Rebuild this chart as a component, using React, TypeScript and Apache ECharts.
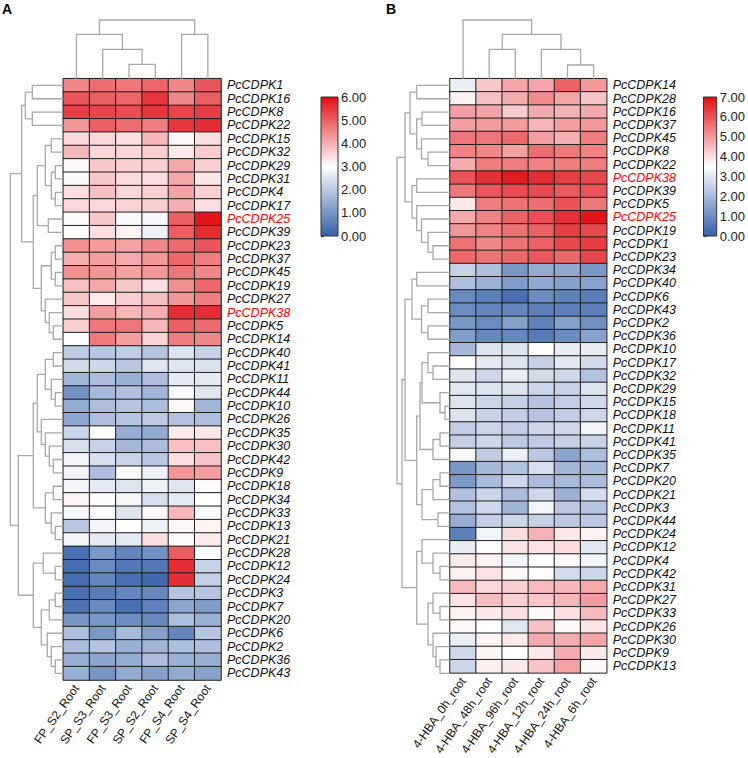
import React, { useEffect, useRef } from 'react';
import * as echarts from 'echarts';

const FONT = '"Liberation Sans", Arial, Helvetica, sans-serif';

const leftCols = ['FP_S2_Root', 'SP_S3_Root', 'FP_S3_Root', 'SP_S2_Root', 'FP_S4_Root', 'SP_S4_Root'];
const leftGenes = ['PcCDPK1', 'PcCDPK16', 'PcCDPK8', 'PcCDPK22', 'PcCDPK15', 'PcCDPK32', 'PcCDPK29', 'PcCDPK31', 'PcCDPK4', 'PcCDPK17', 'PcCDPK25', 'PcCDPK39', 'PcCDPK23', 'PcCDPK37', 'PcCDPK45', 'PcCDPK19', 'PcCDPK27', 'PcCDPK38', 'PcCDPK5', 'PcCDPK14', 'PcCDPK40', 'PcCDPK41', 'PcCDPK11', 'PcCDPK44', 'PcCDPK10', 'PcCDPK26', 'PcCDPK35', 'PcCDPK30', 'PcCDPK42', 'PcCDPK9', 'PcCDPK18', 'PcCDPK34', 'PcCDPK33', 'PcCDPK13', 'PcCDPK21', 'PcCDPK28', 'PcCDPK12', 'PcCDPK24', 'PcCDPK3', 'PcCDPK7', 'PcCDPK20', 'PcCDPK6', 'PcCDPK2', 'PcCDPK36', 'PcCDPK43'];
const leftValues = [
  [4.5, 4.8, 4.7, 4.9, 4.5, 5.1],
  [5.1, 5.0, 4.9, 5.5, 4.5, 5.0],
  [5.4, 5.3, 5.2, 5.5, 5.3, 5.4],
  [4.3, 5.0, 4.8, 4.6, 5.5, 5.6],
  [3.5, 3.5, 3.4, 3.9, 3.1, 3.4],
  [3.9, 3.5, 3.5, 3.6, 3.25, 3.65],
  [3.1, 3.7, 3.6, 3.6, 4.1, 3.6],
  [2.9, 3.7, 3.45, 3.4, 4.1, 3.3],
  [3.4, 3.8, 3.5, 3.6, 4.15, 3.6],
  [3.5, 3.5, 3.55, 3.6, 4.0, 3.4],
  [3.05, 3.7, 2.9, 2.85, 5.0, 5.9],
  [3.0, 3.4, 3.15, 2.75, 5.0, 5.6],
  [4.4, 4.25, 4.15, 4.5, 4.85, 5.1],
  [4.0, 4.2, 4.05, 4.3, 4.9, 4.6],
  [4.4, 4.35, 4.15, 4.3, 4.7, 4.5],
  [3.8, 4.1, 3.7, 3.4, 4.4, 4.9],
  [3.7, 3.25, 3.6, 3.8, 4.3, 4.6],
  [3.4, 4.2, 3.9, 4.0, 5.6, 5.6],
  [3.6, 4.7, 4.7, 3.9, 5.0, 4.85],
  [3.0, 4.65, 4.2, 3.55, 4.6, 4.5],
  [2.05, 1.95, 2.05, 1.9, 2.5, 2.15],
  [2.3, 2.25, 1.95, 2.55, 2.5, 2.45],
  [1.6, 1.75, 1.5, 1.8, 2.6, 2.6],
  [0.9, 1.7, 1.85, 1.6, 2.9, 2.55],
  [1.4, 1.8, 1.9, 1.75, 3.1, 1.6],
  [1.35, 1.8, 1.9, 2.0, 1.85, 1.8],
  [2.2, 3.0, 1.45, 1.4, 3.25, 3.3],
  [2.4, 2.15, 1.65, 1.75, 3.8, 3.8],
  [2.8, 2.4, 2.2, 1.95, 3.4, 3.75],
  [2.8, 1.8, 2.95, 2.75, 4.3, 4.2],
  [2.8, 2.6, 2.5, 2.75, 2.5, 3.05],
  [3.15, 2.95, 2.85, 2.4, 2.6, 3.0],
  [2.85, 2.95, 2.5, 3.1, 3.9, 2.9],
  [1.95, 2.8, 3.0, 2.75, 3.1, 3.15],
  [2.8, 2.6, 2.6, 3.4, 2.95, 3.25],
  [0.3, 1.05, 0.7, 0.9, 5.0, 3.0],
  [0.25, 0.8, 0.45, 0.45, 5.6, 2.15],
  [0.25, 0.7, 0.3, 0.2, 5.6, 2.1],
  [0.3, 0.55, 0.7, 0.75, 1.9, 1.9],
  [0.35, 0.8, 0.3, 0.65, 1.3, 1.15],
  [1.0, 1.05, 0.85, 0.75, 1.8, 1.5],
  [1.8, 1.05, 1.7, 1.2, 0.7, 1.9],
  [1.75, 1.9, 1.5, 1.6, 1.8, 1.8],
  [1.45, 1.3, 1.4, 1.75, 1.5, 1.45],
  [1.5, 1.0, 1.4, 1.2, 1.4, 1.25],
];

const rightCols = ['4-HBA_0h_root', '4-HBA_48h_root', '4-HBA_96h_root', '4-HBA_12h_root', '4-HBA_24h_root', '4-HBA_6h_root'];
const rightGenes = ['PcCDPK14', 'PcCDPK28', 'PcCDPK16', 'PcCDPK37', 'PcCDPK45', 'PcCDPK8', 'PcCDPK22', 'PcCDPK38', 'PcCDPK39', 'PcCDPK5', 'PcCDPK25', 'PcCDPK19', 'PcCDPK1', 'PcCDPK23', 'PcCDPK34', 'PcCDPK40', 'PcCDPK6', 'PcCDPK43', 'PcCDPK2', 'PcCDPK36', 'PcCDPK10', 'PcCDPK17', 'PcCDPK32', 'PcCDPK29', 'PcCDPK15', 'PcCDPK18', 'PcCDPK11', 'PcCDPK41', 'PcCDPK35', 'PcCDPK7', 'PcCDPK20', 'PcCDPK21', 'PcCDPK3', 'PcCDPK44', 'PcCDPK24', 'PcCDPK12', 'PcCDPK4', 'PcCDPK42', 'PcCDPK31', 'PcCDPK27', 'PcCDPK33', 'PcCDPK26', 'PcCDPK30', 'PcCDPK9', 'PcCDPK13'];
const rightValues = [
  [3.15, 4.3, 4.8, 4.8, 5.8, 5.0],
  [3.7, 4.4, 4.7, 5.2, 4.8, 4.35],
  [4.9, 4.8, 4.25, 4.75, 4.6, 4.75],
  [4.9, 4.95, 4.95, 4.55, 4.9, 5.0],
  [5.5, 5.5, 5.7, 4.9, 4.65, 5.4],
  [5.3, 5.25, 4.85, 5.6, 5.45, 5.3],
  [4.7, 5.4, 5.4, 5.3, 5.4, 5.4],
  [6.0, 6.5, 6.8, 6.55, 6.3, 6.15],
  [5.45, 5.95, 6.1, 6.1, 5.9, 6.0],
  [3.8, 5.4, 5.55, 5.6, 6.0, 5.45],
  [4.75, 5.3, 5.75, 6.05, 6.5, 6.9],
  [5.0, 5.3, 5.55, 5.8, 6.3, 6.15],
  [5.55, 5.25, 5.55, 5.8, 6.15, 6.3],
  [5.7, 5.55, 5.7, 5.95, 5.7, 6.2],
  [2.5, 2.1, 1.2, 1.65, 1.6, 1.2],
  [2.1, 1.8, 1.3, 1.6, 1.4, 1.45],
  [0.9, 0.7, 0.35, 0.95, 0.75, 0.65],
  [0.95, 0.85, 0.85, 0.7, 0.7, 0.7],
  [1.2, 0.95, 1.4, 0.75, 1.4, 1.05],
  [1.35, 0.85, 0.85, 0.6, 0.95, 1.45],
  [1.95, 2.9, 2.9, 3.5, 3.1, 3.1],
  [3.5, 3.05, 2.9, 2.45, 3.0, 2.7],
  [2.95, 2.6, 3.1, 2.7, 2.65, 2.15],
  [3.0, 2.9, 2.9, 2.6, 2.5, 2.9],
  [2.9, 2.6, 2.45, 2.2, 2.4, 2.65],
  [2.9, 2.55, 2.4, 2.2, 2.4, 2.6],
  [2.4, 2.6, 2.4, 2.6, 2.65, 3.25],
  [2.45, 2.65, 2.3, 2.35, 2.5, 2.55],
  [3.35, 2.4, 3.15, 2.3, 1.5, 2.1],
  [1.2, 1.95, 2.15, 2.8, 1.9, 2.0],
  [1.25, 2.0, 2.65, 2.05, 2.0, 2.05],
  [2.15, 2.6, 2.05, 2.65, 1.8, 2.75],
  [2.15, 2.65, 1.85, 3.3, 2.3, 2.25],
  [1.7, 2.45, 2.6, 2.5, 2.3, 2.3],
  [0.7, 3.25, 4.0, 4.6, 3.85, 3.7],
  [3.1, 3.55, 3.9, 3.9, 4.0, 3.0],
  [3.8, 3.7, 3.25, 3.5, 3.6, 3.25],
  [3.7, 3.9, 3.6, 3.55, 2.75, 2.6],
  [4.5, 4.05, 4.2, 4.5, 4.55, 4.75],
  [3.9, 4.45, 4.2, 4.3, 4.55, 4.95],
  [3.7, 3.8, 3.95, 3.6, 3.95, 4.5],
  [3.6, 3.5, 3.0, 4.4, 3.6, 3.9],
  [3.15, 3.65, 3.8, 4.75, 4.7, 4.8],
  [2.65, 3.65, 3.5, 3.8, 4.7, 3.8],
  [2.6, 3.75, 3.8, 4.35, 4.85, 3.6],
];

const highlightedGenes = ['PcCDPK25', 'PcCDPK38'];
const leftScaleTicks = [0, 6];
const rightScaleTicks = [0, 7];

// Dendrograms: node = leaf index | [child, child, merge height]
type Node = number | [Node, Node, number];

const leftColTree: Node = [[0, [1, [2, 3, 14.4], 29.4], 44.4], [4, 5, 44.4], 58.7];
const rightColTree: Node = [0, [[1, 2, 29.4], [3, [4, 5, 13.7], 29.4], 44.4], 58.7];

const leftRowTree: Node = [
  [
    [[0, 1, 31], [2, 3, 31], 38],
    [
      [[[4, 5, 12], [[6, 7, 8], [8, 9, 8], 12], 18], [10, 11, 15], 26],
      [[[12, 13, 8], [14, 15, 8], 12], [16, [17, [18, 19, 10], 14], 18], 22],
      30,
    ],
    41.6,
  ],
  [
    [
      [[[20, 21, 10], [22, [23, 24, 8], 12], 18], [25, [26, [27, [28, 29, 10], 14], 18], 22], 26],
      [[30, 31, 10], [32, [33, 34, 8], 12], 18],
      30,
    ],
    [[35, [36, 37, 8], 20], [[[38, 39, 8], 40, 14], [41, [42, [43, 44, 8], 12], 16], 22], 30],
    45,
  ],
  53,
];

const rightRowTree: Node = [
  [
    [[0, 1, 33.3], [[2, 3, 28], [4, [5, 6, 22], 28.5], 33.3], 40],
    [[7, 8, 33.3], [9, [10, [11, [12, 13, 17], 22], 28.5], 33.3], 38],
    45,
  ],
  [
    [
      [[14, 15, 33.3], [[16, 17, 22], [18, 19, 22], 28.5], 38],
      [
        [[[20, [21, 22, 17], 22], [23, [24, 25, 5], 10], 28], [[26, 27, 10], 28, 17], 30],
        [[[29, 30, 10], 31, 17], [32, 33, 12], 28],
        33.3,
      ],
      45,
    ],
    [
      [34, [35, [36, 37, 10], 17], 28],
      [[38, [39, 40, 10], 17], [41, [42, [43, 44, 10], 14], 17], 22],
      33.3,
    ],
    48,
  ],
  53,
];

const BLUE = '#3560A9';
const WHITE = '#FFFFFF';
const RED = '#E10E14';

function treeSegments(tree: Node): number[][] {
  const out: number[][] = [];
  const walk = (n: Node): [number, number] => {
    if (typeof n === 'number') return [n, 0];
    const [a, b, h] = n;
    const [pa, ha] = walk(a);
    const [pb, hb] = walk(b);
    out.push([pa, ha, pb, hb, h]);
    return [(pa + pb) / 2, h];
  };
  walk(tree);
  return out;
}

function treeHeight(tree: Node): number {
  return typeof tree === 'number' ? 0 : tree[2];
}

function heatData(values: number[][]) {
  const d: number[][] = [];
  values.forEach((row, r) => row.forEach((v, c) => d.push([c, r, v])));
  return d;
}

const dendroRender = (horizontal: boolean) => (params: any, api: any) => {
  const pa = api.value(0), ha = api.value(1), pb = api.value(2), hb = api.value(3), h = api.value(4);
  const pt = (p: number, hh: number) => (horizontal ? api.coord([hh, p]) : api.coord([p, hh]));
  return {
    type: 'polyline',
    shape: { points: [pt(pa, ha), pt(pa, h), pt(pb, h), pt(pb, hb)] },
    style: { stroke: '#a8a8a8', lineWidth: 1.3, fill: null },
  };
};

const colorbarRender = (max: number) => (params: any, api: any) => {
  const p0 = api.coord([0, max]);
  const p1 = api.coord([1, 0]);
  return {
    type: 'rect',
    shape: { x: p0[0], y: p0[1], width: p1[0] - p0[0], height: p1[1] - p0[1] },
    style: {
      fill: new echarts.graphic.LinearGradient(0, 0, 0, 1, [
        { offset: 0, color: RED },
        { offset: 0.5, color: WHITE },
        { offset: 1, color: BLUE },
      ]),
      stroke: '#333',
      lineWidth: 1,
    },
  };
};

export default function App() {
  const ref = useRef<HTMLDivElement>(null);
  useEffect(() => {
    if (!ref.current) return;
    const chart = echarts.init(ref.current, null, { renderer: 'svg' });

    const panels = [
      { cols: leftCols, genes: leftGenes, values: leftValues, colTree: leftColTree, rowTree: leftRowTree, ticks: leftScaleTicks, hx: 63.3, hw: 157.7, cbx: 321, cbw: 17 },
      { cols: rightCols, genes: rightGenes, values: rightValues, colTree: rightColTree, rowTree: rightRowTree, ticks: rightScaleTicks, hx: 450, hw: 156.7, cbx: 703.5, cbw: 18 },
    ];
    const top = 78.7;
    const height = 601.3;
    const colTop = 20;

    const grid: any[] = [];
    const xAxis: any[] = [];
    const yAxis: any[] = [];
    const series: any[] = [];
    const visualMap: any[] = [];

    panels.forEach((p) => {
      const base = grid.length;
      const n = p.genes.length;
      const m = p.cols.length;
      const rowH = treeHeight(p.rowTree);
      const colH = treeHeight(p.colTree);
      const [vmin, vmax] = p.ticks;
      grid.push({ left: p.hx, top, width: p.hw, height });
      xAxis.push({
        type: 'category', gridIndex: base, data: p.cols, position: 'bottom',
        axisLine: { show: false }, axisTick: { show: false }, splitLine: { show: false },
        axisLabel: { rotate: 55, margin: 6, fontSize: 12, color: '#111', fontFamily: FONT, interval: 0 },
      });
      yAxis.push({
        type: 'category', gridIndex: base, data: p.genes, inverse: true, position: 'right',
        axisLine: { show: false }, axisTick: { show: false }, splitLine: { show: false },
        axisLabel: {
          margin: 6, interval: 0,
          formatter: (v: string) => (highlightedGenes.includes(v) ? `{r|${v}}` : `{n|${v}}`),
          rich: {
            n: { fontStyle: 'italic', fontSize: 12.5, color: '#111', fontFamily: FONT },
            r: { fontStyle: 'italic', fontSize: 12.5, color: '#ff0000', fontFamily: FONT },
          },
        },
      });
      series.push({
        type: 'heatmap', xAxisIndex: base, yAxisIndex: base, data: heatData(p.values),
        itemStyle: { borderColor: '#1e1e1e', borderWidth: 1 },
        emphasis: { disabled: true },
      });
      visualMap.push({
        type: 'continuous', show: false, min: vmin, max: vmax, dimension: 2,
        seriesIndex: series.length - 1, inRange: { color: [BLUE, WHITE, RED] },
      });

      grid.push({ left: p.hx, top: colTop, width: p.hw, height: top - colTop });
      xAxis.push({ type: 'value', gridIndex: base + 1, min: -0.5, max: m - 0.5, show: false });
      yAxis.push({ type: 'value', gridIndex: base + 1, min: 0, max: colH, show: false });
      series.push({
        type: 'custom', xAxisIndex: base + 1, yAxisIndex: base + 1,
        data: treeSegments(p.colTree), renderItem: dendroRender(false), silent: true,
      });

      grid.push({ left: p.hx - rowH, top, width: rowH, height });
      xAxis.push({ type: 'value', gridIndex: base + 2, min: 0, max: rowH, inverse: true, show: false });
      yAxis.push({ type: 'value', gridIndex: base + 2, min: -0.5, max: n - 0.5, inverse: true, show: false });
      series.push({
        type: 'custom', xAxisIndex: base + 2, yAxisIndex: base + 2,
        data: treeSegments(p.rowTree), renderItem: dendroRender(true), silent: true,
      });

      grid.push({ left: p.cbx, top: 97, width: p.cbw, height: 139 });
      xAxis.push({ type: 'value', gridIndex: base + 3, min: 0, max: 1, show: false });
      yAxis.push({
        type: 'value', gridIndex: base + 3, min: vmin, max: vmax, interval: 1, position: 'right',
        axisLine: { show: false }, splitLine: { show: false },
        axisTick: { show: true, length: 3, lineStyle: { color: '#333', width: 1 } },
        axisLabel: { margin: 3, fontSize: 13, color: '#222', fontFamily: FONT, formatter: (v: number) => v.toFixed(2) },
      });
      series.push({
        type: 'custom', xAxisIndex: base + 3, yAxisIndex: base + 3,
        data: [[0, 0]], renderItem: colorbarRender(vmax), silent: true, z: 1,
      });
    });

    chart.setOption({
      animation: false,
      backgroundColor: '#ffffff',
      textStyle: { fontFamily: FONT },
      grid, xAxis, yAxis, series, visualMap,
      graphic: [
        { type: 'text', left: 2, top: 2, style: { text: 'A', fontSize: 14, fontWeight: 'bold', fill: '#000', fontFamily: FONT } },
        { type: 'text', left: 386, top: 2, style: { text: 'B', fontSize: 14, fontWeight: 'bold', fill: '#000', fontFamily: FONT } },
      ],
    });
    return () => chart.dispose();
  }, []);
  return <div ref={ref} style={{ position: 'fixed', left: 0, top: 0, width: 748, height: 758, background: '#fff' }} />;
}
